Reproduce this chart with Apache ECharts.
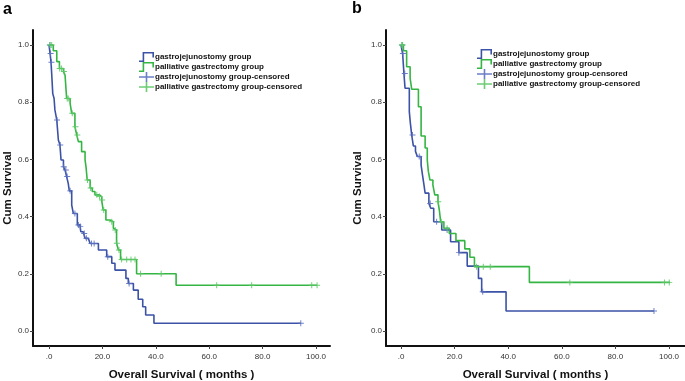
<!DOCTYPE html>
<html>
<head>
<meta charset="utf-8">
<script src="https://cdn.jsdelivr.net/npm/echarts@6/dist/echarts.min.js"></script>
<style>
html,body{margin:0;padding:0;background:#fff;}
#chart{width:685px;height:381px;}
</style>
</head>
<body>
<div id="chart"></div>
<script>
// ---------- data ----------
var seriesNames = ['gastrojejunostomy group', 'palliative gastrectomy group',
  'gastrojejunostomy group-censored', 'palliative gastrectomy group-censored'];
var xTicks = [0, 20, 40, 60, 80, 100];
var yTicks = [0, 0.2, 0.4, 0.6, 0.8, 1.0];
var panelLabels = ['a', 'b'];

// Panel a: [months, cumulative survival]
var aGJ = [[0,1.0],[0.4,0.97],[0.75,0.94],[1.0,0.90],[1.4,0.83],[1.9,0.813],[2.2,0.773],[2.9,0.738],[3.5,0.668],[4.1,0.65],[4.5,0.598],[5.4,0.574],[6.0,0.563],[6.6,0.54],[7.2,0.516],[7.6,0.49],[8.5,0.44],[9.1,0.411],[10.6,0.371],[11.6,0.365],[11.9,0.347],[12.8,0.341],[13.5,0.324],[14.7,0.318],[15.4,0.306],[18.5,0.283],[21.6,0.26],[23.5,0.237],[24.7,0.213],[28.8,0.184],[29.7,0.166],[31.6,0.143],[33.4,0.111],[35.1,0.085],[36.2,0.056],[39.3,0.027],[94.3,0.027]];
var aPG = [[0,1.0],[1.6,0.98],[2.9,0.942],[3.9,0.918],[5.4,0.907],[6.0,0.895],[6.6,0.813],[7.9,0.796],[8.5,0.761],[9.7,0.714],[10.4,0.685],[11.0,0.662],[12.2,0.627],[13.5,0.598],[13.9,0.57],[14.3,0.528],[15.4,0.5],[16.2,0.488],[17.2,0.476],[18.9,0.47],[19.7,0.458],[20.3,0.423],[21.3,0.388],[22.8,0.382],[24.1,0.359],[24.7,0.353],[25.3,0.307],[26.0,0.283],[26.8,0.25],[32.8,0.2],[47.6,0.16],[100.4,0.16]];
var aGJc = [[0.3,1.0],[0.6,0.97],[0.9,0.94],[3.0,0.738],[4.2,0.65],[5.5,0.574],[6.3,0.563],[6.8,0.54],[7.9,0.49],[9.7,0.411],[11.0,0.371],[11.7,0.365],[13.2,0.341],[14.0,0.324],[15.9,0.306],[16.9,0.306],[22.0,0.26],[30.0,0.166],[94.3,0.027]];
var aPGc = [[0.4,1.0],[1.0,1.0],[4.0,0.918],[4.7,0.918],[5.6,0.907],[6.8,0.813],[7.2,0.813],[8.7,0.761],[9.9,0.714],[10.6,0.685],[14.4,0.528],[15.6,0.5],[17.9,0.476],[18.9,0.47],[19.9,0.458],[20.5,0.423],[23.5,0.382],[24.8,0.353],[25.4,0.307],[26.2,0.283],[27.2,0.25],[29.1,0.25],[30.7,0.25],[32.2,0.25],[34.3,0.2],[42.0,0.2],[62.8,0.16],[75.9,0.16],[98.4,0.16],[100.4,0.16]];

// Panel b
var bGJ = [[0,1.0],[0.6,0.97],[1.1,0.90],[1.5,0.849],[3.1,0.767],[3.5,0.726],[4.0,0.685],[4.6,0.647],[5.4,0.628],[6.1,0.61],[7.5,0.58],[8.0,0.547],[8.5,0.515],[9.0,0.482],[10.4,0.446],[11.1,0.429],[12.2,0.382],[15.2,0.353],[18.5,0.312],[21.6,0.274],[24.7,0.227],[28.9,0.184],[30.1,0.137],[39.2,0.07],[94.4,0.07]];
var bPG = [[0,1.0],[0.9,0.98],[2.1,0.924],[3.4,0.884],[4.0,0.845],[6.5,0.784],[7.5,0.682],[9.0,0.64],[9.8,0.598],[10.2,0.558],[10.8,0.528],[11.9,0.51],[12.6,0.476],[13.8,0.452],[14.3,0.423],[14.8,0.382],[16.0,0.359],[18.0,0.341],[20.5,0.316],[23.8,0.287],[25.7,0.258],[27.4,0.225],[47.9,0.17],[100.4,0.17]];
var bGJc = [[0.4,1.0],[0.7,0.97],[1.4,0.90],[4.3,0.685],[6.8,0.61],[10.9,0.446],[13.3,0.382],[17.2,0.353],[21.6,0.274],[30.5,0.137],[94.4,0.07]];
var bPGc = [[0.3,1.0],[0.6,1.0],[13.9,0.452],[15.0,0.382],[17.2,0.359],[28.2,0.225],[30.7,0.225],[33.3,0.225],[63.0,0.17],[98.3,0.17],[100.1,0.17]];

// ---------- styling ----------
var BLUE = '#3b52a6', GREEN = '#35b543';
var BLUE_C = '#5b70c0', GREEN_C = '#5cc866';
var plusSym = 'path://M4.2,0h1.6v10h-1.6z M0,4.2h10v1.6h-10z';
var stepIcon = 'path://M0,8.4H3.6V0H15V5.5H13.4V1.6H5.2V10H0Z';
var censIcon = 'path://M0,4.2H15V5.8H0Z M6.7,0H8.3V10H6.7Z';
var FONT = '"Liberation Sans", Arial, sans-serif';

function xAxis(grid, min, max) {
  return {
    type: 'value', gridIndex: grid, min: min, max: max,
    name: 'Overall Survival ( months )', nameLocation: 'middle', nameGap: 23,
    nameTextStyle: {fontFamily: FONT, fontSize: 11.5, fontWeight: 'bold', color: '#111'},
    axisLine: {show: true, onZero: false, lineStyle: {color: '#111', width: 2}},
    axisTick: {show: true, customValues: xTicks, length: 3, lineStyle: {color: '#444', width: 1}},
    axisLabel: {customValues: xTicks, margin: 7, fontFamily: FONT, fontSize: 8, color: '#333',
      formatter: function (v) { return v === 0 ? '.0' : v.toFixed(1); }},
    splitLine: {show: false}
  };
}
function yAxis(grid, gap) {
  return {
    type: 'value', gridIndex: grid, min: -0.0524, max: 1.0524,
    name: 'Cum Survival', nameLocation: 'middle', nameGap: gap,
    nameTextStyle: {fontFamily: FONT, fontSize: 11.5, fontWeight: 'bold', color: '#111'},
    axisLine: {show: true, onZero: false, lineStyle: {color: '#111', width: 2}},
    axisTick: {show: true, customValues: yTicks, length: 3, lineStyle: {color: '#444', width: 1}},
    axisLabel: {customValues: yTicks, margin: 4, fontFamily: FONT, fontSize: 8, color: '#333',
      formatter: function (v) { return v.toFixed(1); }},
    splitLine: {show: false}
  };
}
function stepSeries(name, data, idx, color) {
  return {
    name: name, type: 'line', step: 'end', data: data, xAxisIndex: idx, yAxisIndex: idx,
    showSymbol: false, symbol: 'none', animation: false,
    lineStyle: {color: color, width: 1.6}, itemStyle: {color: color}
  };
}
function censSeries(name, data, idx, color) {
  return {
    name: name, type: 'scatter', data: data, xAxisIndex: idx, yAxisIndex: idx,
    symbol: plusSym, symbolSize: 6, animation: false, z: 3,
    itemStyle: {color: color, opacity: 0.9}
  };
}
function legend(left, top) {
  return {
    left: left, top: top, orient: 'vertical', padding: 0, itemGap: 0, itemWidth: 15, itemHeight: 10,
    selectedMode: false,
    textStyle: {fontFamily: FONT, fontSize: 8, fontWeight: 'bold', color: '#111', lineHeight: 10,
      padding: [0, 0, 0, -4]},
    data: [
      {name: seriesNames[0], icon: stepIcon, itemStyle: {color: BLUE}},
      {name: seriesNames[1], icon: stepIcon, itemStyle: {color: GREEN}},
      {name: seriesNames[2], icon: censIcon, itemStyle: {color: BLUE_C}},
      {name: seriesNames[3], icon: censIcon, itemStyle: {color: GREEN_C}}
    ]
  };
}

var chart = echarts.init(document.getElementById('chart'), null, {renderer: 'canvas'});
chart.setOption({
  backgroundColor: '#fff',
  animation: false,
  title: [
    {text: panelLabels[0], left: 3, top: 2, padding: 0, textStyle: {fontFamily: FONT, fontSize: 16, fontWeight: 'bold', color: '#000'}},
    {text: panelLabels[1], left: 352, top: 1, padding: 0, textStyle: {fontFamily: FONT, fontSize: 16, fontWeight: 'bold', color: '#000'}}
  ],
  grid: [
    {left: 33, top: 30, width: 297, height: 316, outerBoundsMode: 'none', containLabel: false},
    {left: 386, top: 30, width: 299, height: 316, outerBoundsMode: 'none', containLabel: false}
  ],
  xAxis: [xAxis(0, -6, 105.24), xAxis(1, -5.6, 105.97)],
  yAxis: [yAxis(0, 19), yAxis(1, 22)],
  legend: [legend(139, 52), legend(477, 49)],
  series: [
    stepSeries(seriesNames[0], aGJ, 0, BLUE),
    stepSeries(seriesNames[1], aPG, 0, GREEN),
    censSeries(seriesNames[2], aGJc, 0, BLUE_C),
    censSeries(seriesNames[3], aPGc, 0, GREEN_C),
    stepSeries(seriesNames[0], bGJ, 1, BLUE),
    stepSeries(seriesNames[1], bPG, 1, GREEN),
    censSeries(seriesNames[2], bGJc, 1, BLUE_C),
    censSeries(seriesNames[3], bPGc, 1, GREEN_C)
  ]
});
</script>
</body>
</html>
